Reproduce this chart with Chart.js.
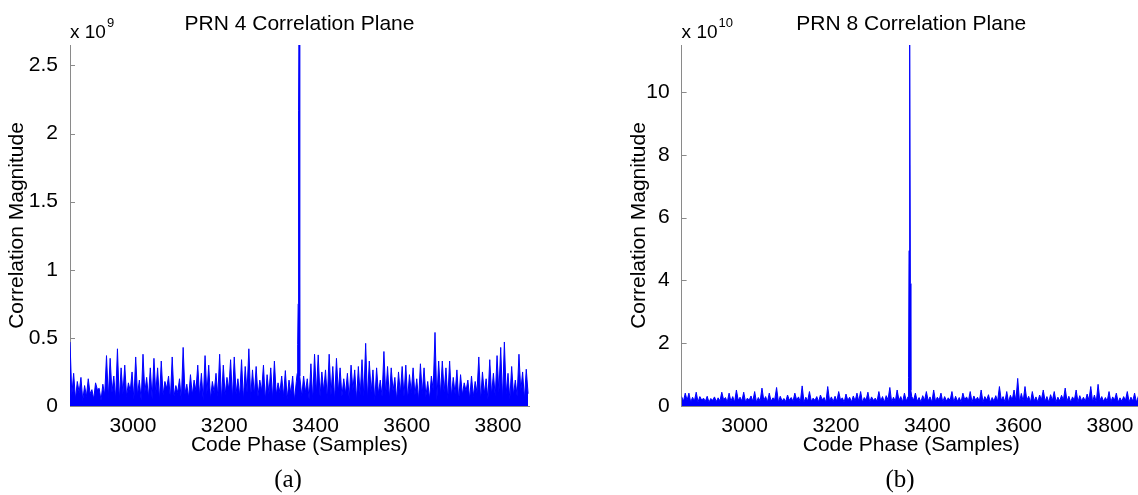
<!DOCTYPE html>
<html>
<head>
<meta charset="utf-8">
<title>PRN Correlation Planes</title>
<script src="https://cdn.jsdelivr.net/npm/chart.js@4.4.1/dist/chart.umd.min.js"></script>
<style>
  html, body { margin: 0; padding: 0; background: #ffffff; overflow: hidden; }
  body { width: 1138px; height: 495px; position: relative; }
  canvas.panel { position: absolute; top: 0; }
  #prn4 { left: 0; }
  #prn8 { left: 569px; }
</style>
</head>
<body>
<canvas id="prn4" class="panel" width="569" height="495"></canvas>
<canvas id="prn8" class="panel" width="575" height="495"></canvas>
<script>
// Code phase grid of the correlation search (samples)
const phaseStart = 2862;
const phaseStep = 4;
const phaseMin = 2862;
const phaseMax = 3868;
const phaseTicks = [3000, 3200, 3400, 3600, 3800];

// PRN 4 magnitudes (x 1e9): local highs and lows of the noise floor
const prn4Highs = [
  0.47, 0.24, 0.18, 0.21, 0.15, 0.20, 0.12, 0.17, 0.13, 0.16,
  0.37, 0.35, 0.22, 0.42, 0.28, 0.30, 0.17, 0.25, 0.36, 0.19,
  0.38, 0.21, 0.28, 0.35, 0.28, 0.33, 0.18, 0.22, 0.36, 0.15,
  0.20, 0.43, 0.16, 0.23, 0.19, 0.30, 0.24, 0.37, 0.30, 0.18,
  0.24, 0.38, 0.30, 0.21, 0.34, 0.36, 0.20, 0.34, 0.29, 0.42,
  0.265, 0.29, 0.19, 0.30, 0.23, 0.28, 0.33, 0.17, 0.22, 0.26,
  0.19, 0.22, 0.18, 0.30, 0.22, 0.20, 0.31, 0.38, 0.375, 0.25,
  0.265, 0.38, 0.29, 0.35, 0.28, 0.20, 0.24, 0.30, 0.265, 0.29,
  0.34, 0.46, 0.33, 0.265, 0.28, 0.19, 0.40, 0.29, 0.28, 0.21,
  0.25, 0.29, 0.30, 0.23, 0.28, 0.20, 0.31, 0.28, 0.18, 0.22,
  0.54, 0.33, 0.33, 0.28, 0.33, 0.21, 0.265, 0.23, 0.17, 0.19,
  0.22, 0.18, 0.36, 0.25, 0.20, 0.34, 0.24, 0.37, 0.43, 0.47,
  0.24, 0.29, 0.19, 0.38, 0.25, 0.27
];
const prn4Lows = [
  0.08, 0.05, 0.10, 0.04, 0.07, 0.09, 0.05, 0.12, 0.04, 0.08,
  0.06, 0.10, 0.05, 0.04, 0.09, 0.07, 0.11, 0.05, 0.08, 0.04,
  0.10, 0.06, 0.05, 0.09, 0.04, 0.08, 0.13, 0.05, 0.07, 0.10,
  0.04, 0.09, 0.06, 0.08, 0.11, 0.07, 0.04, 0.09, 0.05, 0.10,
  0.07, 0.04, 0.08, 0.12, 0.05, 0.09, 0.07, 0.04, 0.10, 0.06,
  0.08, 0.07, 0.11, 0.04, 0.09, 0.05, 0.08, 0.10, 0.07, 0.05,
  0.09, 0.04, 0.08, 0.07, 0.10, 0.05, 0.04, 0.09, 0.07, 0.11,
  0.05, 0.08, 0.04, 0.10, 0.07, 0.09, 0.05, 0.12, 0.04, 0.08,
  0.07, 0.05, 0.10, 0.04, 0.09, 0.07, 0.08, 0.05, 0.11, 0.04,
  0.09, 0.07, 0.05, 0.10, 0.08, 0.04, 0.09, 0.07, 0.05, 0.12,
  0.04, 0.08, 0.10, 0.05, 0.07, 0.09, 0.04, 0.08, 0.11, 0.05,
  0.07, 0.10, 0.04, 0.09, 0.05, 0.08, 0.07, 0.10, 0.04, 0.09,
  0.05, 0.08, 0.07, 0.11, 0.05, 0.09
];
// PRN 4 correlation peak, sample by sample
const prn4PeakPhase = [3360, 3361, 3362, 3363, 3364, 3365, 3366];
const prn4PeakMag   = [0.24, 0.45, 0.75, 2.17, 2.65, 0.47, 0.22];
const prn4Ticks = [0, 0.5, 1, 1.5, 2, 2.5];

// PRN 8 magnitudes (x 1e10)
const prn8Highs = [
  0.30, 0.41, 0.41, 0.28, 0.44, 0.30, 0.25, 0.31, 0.24, 0.29,
  0.26, 0.44, 0.27, 0.41, 0.30, 0.51, 0.28, 0.44, 0.25, 0.32,
  0.46, 0.27, 0.57, 0.30, 0.41, 0.26, 0.59, 0.31, 0.24, 0.35,
  0.27, 0.41, 0.29, 0.64, 0.28, 0.46, 0.25, 0.30, 0.35, 0.27,
  0.62, 0.29, 0.31, 0.46, 0.26, 0.38, 0.28, 0.32, 0.41, 0.46,
  0.27, 0.44, 0.29, 0.25, 0.46, 0.30, 0.33, 0.59, 0.28, 0.51,
  0.30, 0.41, 0.32, 0.30, 0.41, 0.27, 0.33, 0.46, 0.29, 0.51,
  0.28, 0.41, 0.30, 0.26, 0.46, 0.31, 0.27, 0.41, 0.29, 0.46,
  0.32, 0.28, 0.51, 0.30, 0.36, 0.27, 0.33, 0.62, 0.30, 0.46,
  0.34, 0.51, 0.88, 0.40, 0.62, 0.31, 0.46, 0.29, 0.35, 0.51,
  0.30, 0.36, 0.46, 0.28, 0.34, 0.57, 0.31, 0.29, 0.51, 0.33,
  0.28, 0.38, 0.62, 0.35, 0.69, 0.30, 0.27, 0.46, 0.29, 0.41,
  0.26, 0.30, 0.46, 0.28, 0.41, 0.30
];
const prn8Lows = [
  0.15, 0.18, 0.12, 0.16, 0.13, 0.19, 0.15, 0.12, 0.18, 0.14,
  0.16, 0.20, 0.13, 0.15, 0.12, 0.18, 0.16, 0.13, 0.19, 0.15,
  0.12, 0.16, 0.18, 0.13, 0.15, 0.21, 0.12, 0.16, 0.14, 0.18,
  0.15, 0.19, 0.13, 0.12, 0.16, 0.15, 0.18, 0.13, 0.20, 0.12,
  0.16, 0.14, 0.15, 0.19, 0.12, 0.18, 0.13, 0.16, 0.15, 0.12,
  0.19, 0.13, 0.18, 0.15, 0.16, 0.12, 0.20, 0.13, 0.15, 0.18,
  0.13, 0.16, 0.12, 0.19, 0.15, 0.13, 0.18, 0.16, 0.12, 0.15,
  0.19, 0.13, 0.16, 0.18, 0.12, 0.15, 0.13, 0.20, 0.16, 0.12,
  0.18, 0.15, 0.13, 0.19, 0.12, 0.16, 0.15, 0.18, 0.13, 0.12,
  0.19, 0.16, 0.13, 0.15, 0.18, 0.12, 0.16, 0.13, 0.20, 0.15,
  0.12, 0.18, 0.13, 0.16, 0.19, 0.15, 0.12, 0.18, 0.13, 0.16,
  0.15, 0.19, 0.13, 0.12, 0.18, 0.15, 0.16, 0.13, 0.19, 0.12,
  0.15, 0.18, 0.13, 0.16, 0.12, 0.15
];
const prn8PeakPhase = [3358, 3359, 3360, 3361, 3362, 3363, 3364];
const prn8PeakMag   = [0.30, 0.90, 4.95, 9.65, 11.5, 3.90, 0.50];
const prn8Ticks = [0, 2, 4, 6, 8, 10];

const axisGray = '#8a8a8a';
const traceBlue = '#0000ff';
const sansFamily = '"Liberation Sans", Arial, Helvetica, sans-serif';
const serifFamily = '"Liberation Serif", "Times New Roman", serif';

// Interleave highs/lows on the phase grid and splice in the peak samples
function buildSeries(highs, lows, peakPhase, peakMag) {
  const pts = [];
  for (let k = 0; k < highs.length; k++) {
    pts.push({ x: phaseStart + 2 * k * phaseStep, y: highs[k] });
    pts.push({ x: phaseStart + (2 * k + 1) * phaseStep, y: lows[k] });
  }
  const lo = peakPhase[0], hi = peakPhase[peakPhase.length - 1];
  const series = pts.filter(p => p.x < lo || p.x > hi);
  peakPhase.forEach((x, i) => series.push({ x: x, y: peakMag[i] }));
  series.sort((a, b) => a.x - b.x);
  return series;
}

// Inward tick marks plus the title, axis labels, exponent and sub-caption
const decorations = {
  id: 'decorations',
  beforeDatasetsDraw(chart) {
    const { ctx, chartArea: a, scales: { x, y } } = chart;
    ctx.save();
    ctx.strokeStyle = axisGray;
    ctx.lineWidth = 1;
    ctx.beginPath();
    y.ticks.forEach(t => {
      const py = Math.round(y.getPixelForValue(t.value)) + 0.5;
      ctx.moveTo(a.left, py);
      ctx.lineTo(a.left + 5, py);
    });
    x.ticks.forEach(t => {
      const px = Math.round(x.getPixelForValue(t.value)) + 0.5;
      ctx.moveTo(px, a.bottom);
      ctx.lineTo(px, a.bottom - 5);
    });
    ctx.stroke();
    ctx.restore();
  },
  afterDraw(chart, args, o) {
    const { ctx, chartArea: a } = chart;
    const cx = (a.left + a.right) / 2;
    ctx.save();
    ctx.fillStyle = '#000000';
    ctx.textBaseline = 'alphabetic';

    ctx.font = '21px ' + sansFamily;
    ctx.textAlign = 'center';
    ctx.fillText(o.title, cx, 30);
    ctx.fillText('Code Phase (Samples)', cx, 451);

    ctx.save();
    ctx.translate(o.ylabelX, (a.top + a.bottom) / 2);
    ctx.rotate(-Math.PI / 2);
    ctx.fillText('Correlation Magnitude', 0, 0);
    ctx.restore();

    ctx.textAlign = 'left';
    ctx.font = '19px ' + sansFamily;
    const base = 'x 10';
    ctx.fillText(base, a.left, 38);
    const w = ctx.measureText(base).width;
    ctx.font = '13px ' + sansFamily;
    ctx.fillText(o.exponent, a.left + w + 1, 27);

    ctx.font = '25px ' + serifFamily;
    ctx.textAlign = 'center';
    ctx.fillText(o.caption, o.captionX, 487);
    ctx.restore();
  }
};

const panels = [
  {
    canvas: 'prn4', highs: prn4Highs, lows: prn4Lows,
    peakPhase: prn4PeakPhase, peakMag: prn4PeakMag, yTicks: prn4Ticks,
    title: 'PRN 4 Correlation Plane', exponent: '9', caption: '(a)',
    yAxisWidth: 70, padRight: 40, ylabelX: 22.5, captionX: 288
  },
  {
    canvas: 'prn8', highs: prn8Highs, lows: prn8Lows,
    peakPhase: prn8PeakPhase, peakMag: prn8PeakMag, yTicks: prn8Ticks,
    title: 'PRN 8 Correlation Plane', exponent: '10', caption: '(b)',
    yAxisWidth: 112.6, padRight: 3, ylabelX: 76, captionX: 331
  }
];

panels.forEach(p => {
  const data = buildSeries(p.highs, p.lows, p.peakPhase, p.peakMag);
  const yMax = Math.max(...data.map(d => d.y));
  new Chart(document.getElementById(p.canvas), {
    type: 'line',
    data: {
      datasets: [{
        data: data,
        borderColor: traceBlue,
        backgroundColor: traceBlue,
        borderWidth: 1,
        pointRadius: 0,
        tension: 0,
        fill: 'origin'
      }]
    },
    options: {
      responsive: false,
      animation: false,
      devicePixelRatio: 1,
      parsing: false,
      layout: { padding: { top: 45, right: p.padRight, bottom: 0, left: 0 } },
      plugins: {
        legend: { display: false },
        tooltip: { enabled: false },
        decorations: {
          title: p.title, exponent: p.exponent, caption: p.caption,
          ylabelX: p.ylabelX, captionX: p.captionX
        }
      },
      scales: {
        x: {
          type: 'linear',
          min: phaseMin,
          max: phaseMax,
          grid: { display: false },
          border: { display: true, color: axisGray, width: 1 },
          ticks: {
            color: '#000000',
            font: { family: sansFamily, size: 21 },
            padding: 0,
            maxRotation: 0,
            callback: v => String(v)
          },
          afterBuildTicks: s => { s.ticks = phaseTicks.map(v => ({ value: v })); },
          afterFit: s => { s.height = 89; }
        },
        y: {
          type: 'linear',
          min: 0,
          max: yMax,
          grid: { display: false },
          border: { display: true, color: axisGray, width: 1 },
          ticks: {
            color: '#000000',
            font: { family: sansFamily, size: 21 },
            padding: 4,
            callback: v => String(v)
          },
          afterBuildTicks: s => { s.ticks = p.yTicks.map(v => ({ value: v })); },
          afterFit: s => { s.width = p.yAxisWidth; }
        }
      }
    },
    plugins: [decorations]
  });
});
</script>
</body>
</html>
